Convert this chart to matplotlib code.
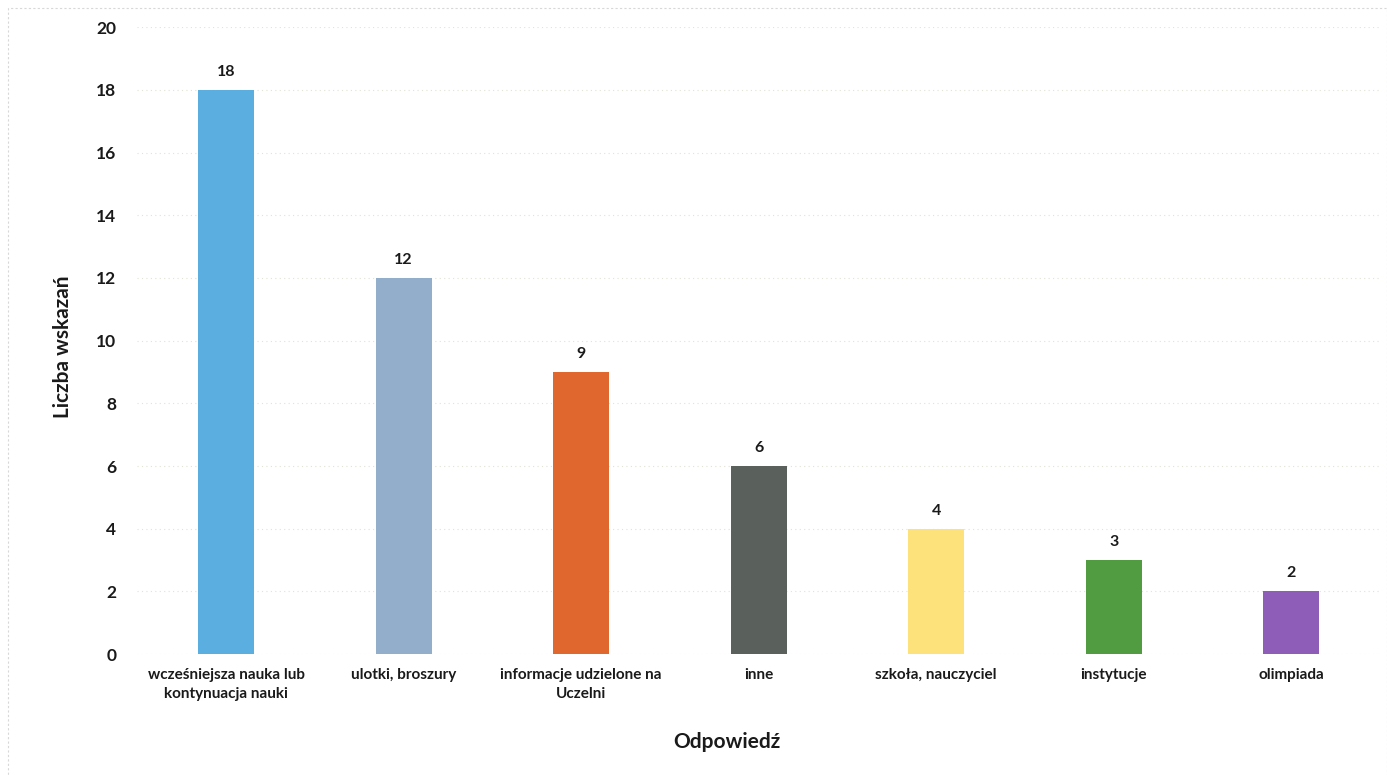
import matplotlib.pyplot as plt
import numpy as np
from matplotlib.patches import Rectangle

# data
categories = [
    "wcześniejsza nauka lub\nkontynuacja nauki",
    "ulotki, broszury",
    "informacje udzielone na\nUczelni",
    "inne",
    "szkoła, nauczyciel",
    "instytucje",
    "olimpiada",
]
counts = [18, 12, 9, 6, 4, 3, 2]
bar_colors = ["#5AAEE0", "#93AECB", "#E0682E", "#5A605B", "#FDE27C", "#519B40", "#8D5DB8"]
y_ticks = [0, 2, 4, 6, 8, 10, 12, 14, 16, 18, 20]

plt.rcParams["font.family"] = ["Lato", "DejaVu Sans"]

fig = plt.figure(figsize=(13.87, 7.75), dpi=100)
ax = fig.add_axes([0.099, 0.156, 0.896, 0.809])

x = np.arange(len(categories))
bars = ax.bar(x, counts, width=0.315, color=bar_colors, zorder=3)

for b, v in zip(bars, counts):
    ax.text(b.get_x() + b.get_width() / 2, v + 0.35, str(v),
            ha="center", va="bottom", fontsize=11.5, fontweight="bold", color="#1a1a1a")

ax.set_xlim(-0.5, len(categories) - 0.5)
ax.set_ylim(0, 20)
ax.set_yticks(y_ticks)
ax.set_xticks(x)
ax.set_xticklabels(categories, fontsize=11, fontweight="bold", color="#1a1a1a",
                   linespacing=1.45)
for lbl in ax.get_yticklabels():
    lbl.set_fontsize(12.5)
    lbl.set_fontweight("bold")
    lbl.set_color("#1a1a1a")
ax.tick_params(axis="both", length=0)
ax.tick_params(axis="y", pad=15)
ax.tick_params(axis="x", pad=10)

ax.yaxis.grid(True, color="#e2e2d6", linestyle=(0, (1, 3)), linewidth=0.8, zorder=0)
for s in ax.spines.values():
    s.set_visible(False)

ax.set_ylabel("Liczba wskazań", fontsize=15, fontweight="bold", color="#1a1a1a")
ax.yaxis.set_label_coords(-0.052, 0.49)
ax.set_xlabel("Odpowiedź", fontsize=15, fontweight="bold", color="#1a1a1a")
ax.xaxis.set_label_coords(0.474, -0.125)

# faint frame of the scanned chart area
fig.patches.append(Rectangle((0.006, -0.01), 0.994, 1.0, transform=fig.transFigure,
                             fill=False, edgecolor="#d8d8d8", linewidth=0.8, linestyle=(0, (2, 2))))

fig.savefig("out.png", dpi=100)
